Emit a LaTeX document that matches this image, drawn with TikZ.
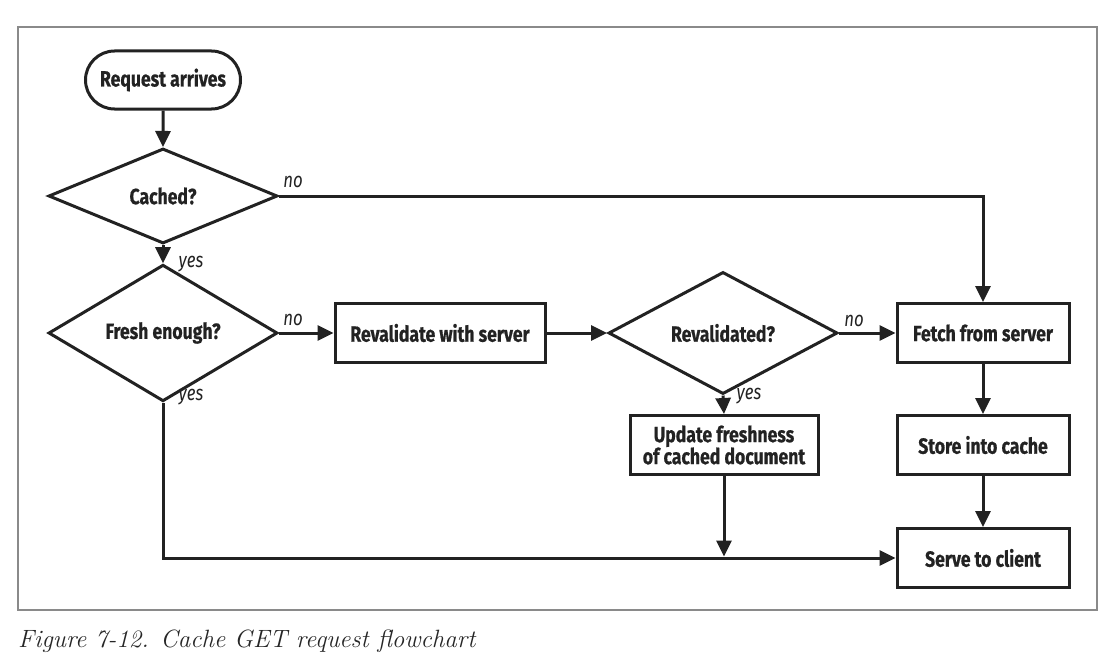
\documentclass[tikz,border=0pt]{standalone}
\usepackage{fontspec}
\newfontfamily\condfont[FakeStretch=0.8, BoldFeatures={FakeBold=0.7}]{Fira Sans}
\usetikzlibrary{shapes.geometric,shapes.misc,arrows.meta}
\definecolor{ink}{HTML}{222222}
\definecolor{framecol}{HTML}{8A8A8A}
\begin{document}
\begin{tikzpicture}[x=1pt,y=-1pt,
  every node/.style={font=\condfont\bfseries\fontsize{22}{24}\selectfont, text=ink},
  box/.style={draw=ink, line width=3pt, rectangle, minimum height=59pt, inner sep=0pt},
  start/.style={draw=ink, line width=3pt, rounded rectangle, minimum width=155pt, minimum height=58pt, inner sep=0pt},
  decide/.style={draw=ink, line width=3pt, diamond, minimum width=229pt, minimum height=95pt, inner sep=0pt},
  flow/.style={draw=ink, line width=3pt, -{Triangle[length=16pt,width=15pt]}},
  lbl/.style={font=\condfont\itshape\fontsize{21}{23}\selectfont, text=ink, inner sep=0pt}
]
\useasboundingbox (0,0) rectangle (1117,669);
\draw[framecol, line width=1.4pt] (18,27) rectangle (1097,610);

\node[start] (req) at (163,80) {Request arrives};
\node[decide] (cached) at (163,196) {Cached?};
\node[decide] (fresh) at (163,333) {Fresh enough?};
\node[box, minimum width=210pt] (reval) at (440,333) {Revalidate with server};
\node[decide] (revd) at (723,333) {Revalidated?};
\node[box, minimum width=172pt] (fetch) at (983,333) {Fetch from server};
\node[box, minimum width=188pt, align=center, font=\condfont\bfseries\fontsize{22}{22}\selectfont] (upd) at (724,445) {Update freshness\\of cached document};
\node[box, minimum width=172pt] (store) at (983,445) {Store into cache};
\node[box, minimum width=172pt] (serve) at (983,558) {Serve to client};

\coordinate (c1) at (fetch.north |- cached.east);
\coordinate (c2) at (fresh.south |- serve.west);
\coordinate (c3) at (upd.south |- serve.west);

\draw[flow] (req) -- (cached);
\draw[flow] (cached) -- (fresh);
\draw[flow] (cached.east) -- (c1) -- (fetch.north);
\draw[flow] (fresh.east) -- (reval.west);
\draw[flow] (reval.east) -- (revd.west);
\draw[flow] (revd.east) -- (fetch.west);
\draw[flow] (revd.south) -- (upd.north);
\draw[flow] (fetch) -- (store);
\draw[flow] (store) -- (serve);
\draw[flow] (fresh.south) -- (c2) -- (serve.west);
\draw[flow, shorten >=1.5pt] (upd.south) -- (c3);

\node[lbl] (l1) at (293,182) {no};
\node[lbl] (l2) at (191,264) {yes};
\node[lbl] (l3) at (293,320) {no};
\node[lbl] (l4) at (191,397) {yes};
\node[lbl] (l5) at (854,321) {no};
\node[lbl] (l6) at (749,396) {yes};

\node[anchor=base west, inner sep=0pt, font=\itshape\fontsize{25}{27}\selectfont, text=black!85] (cap) at (18,647) {Figure 7-12. Cache GET request flowchart};
\end{tikzpicture}
\end{document}
